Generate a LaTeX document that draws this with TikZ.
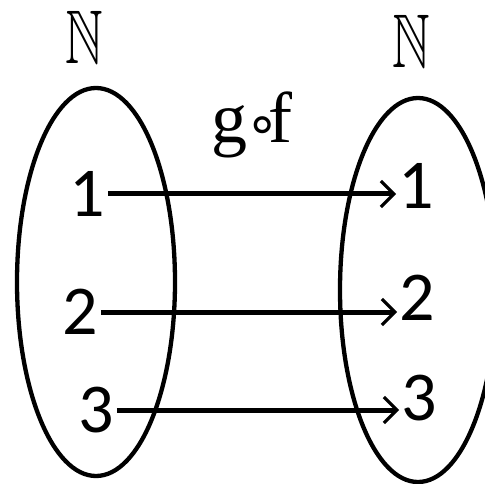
\documentclass[tikz,border=0pt]{standalone}
\usepackage{amssymb}
\usepackage{fontspec}
\newfontfamily\numfont{Carlito}
\newfontfamily\serfont{Liberation Serif}
\newfontfamily\dvsfont{DejaVu Sans}
\usetikzlibrary{arrows.meta}
\begin{document}
\begin{tikzpicture}[x=1pt,y=-1pt,
  setline/.style={line width=4.3pt},
  num/.style={font=\numfont\fontsize{70}{70}\selectfont, inner sep=0pt},
  arr/.style={line width=5pt, shorten <=3pt, shorten >=2pt,
    -{Straight Barb[length=13pt,width=26pt,line width=3.2pt]}},
  setname/.style={inner sep=0pt, xscale=5.2, yscale=7.6}]
\useasboundingbox (0,0) rectangle (485,484);
\fill[white] (0,0) rectangle (485,484);
\draw[setline] (96,282) ellipse [x radius=79, y radius=194];
\begin{scope}
  \clip (0,0) rectangle (485,484);
  \draw[setline] (418,290) ellipse [x radius=78, y radius=192];
\end{scope}
\node[setname] (nl) at (84,37) {$\mathbb{N}$};
\node[setname] (nr) at (411,41) {$\mathbb{N}$};
\node[font=\serfont\fontsize{72}{72}\selectfont, anchor=base, inner sep=0pt] (gof) at (252,143)
  {g\kern-2pt{\dvsfont\fontsize{55}{55}\selectfont ∘}\kern-11pt f};
\node[num] (l1) at (87,194) {1};
\node[num] (l2) at (80,312) {2};
\node[num] (l3) at (96,410) {3};
\node[num] (r1) at (416,186) {1};
\node[num] (r2) at (417,298) {2};
\node[num] (r3) at (419,398) {3};
\draw[arr] (l1.east) -- (l1.east -| r1.west);
\draw[arr] (l2.east) -- (l2.east -| r2.west);
\draw[arr] (l3.east) -- (l3.east -| r3.west);
\end{tikzpicture}
\end{document}
